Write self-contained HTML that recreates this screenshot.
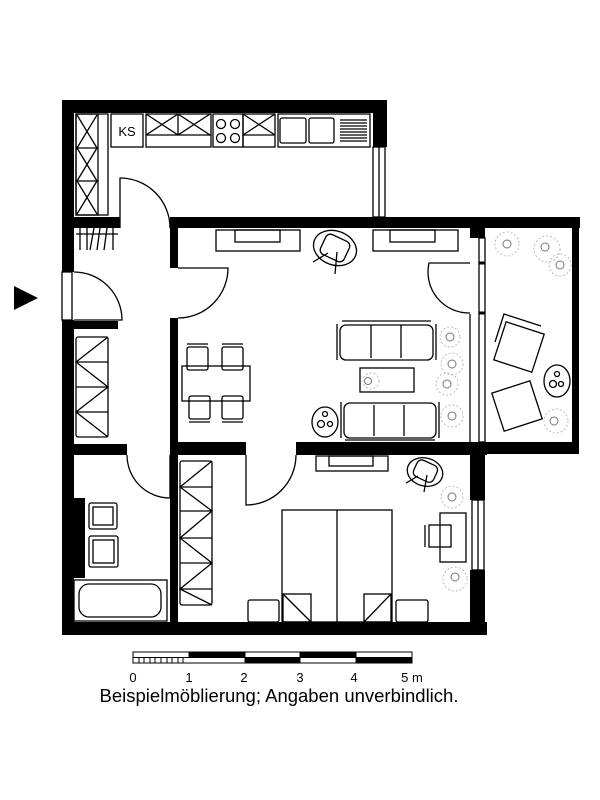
<!DOCTYPE html>
<html><head><meta charset="utf-8"><style>
html,body{margin:0;padding:0;background:#fff;}
svg{display:block;}
text{font-family:"Liberation Sans",Arial,sans-serif;}
</style></head><body>
<svg width="600" height="800" viewBox="0 0 600 800" xmlns="http://www.w3.org/2000/svg">
<rect width="600" height="800" fill="#fff"/>
<polygon points="14,286 38,298 14,310" fill="#000"/>
<g fill="#000">
<rect x="62" y="100" width="325" height="13"/>
<rect x="62" y="100" width="12" height="172"/>
<rect x="62" y="320" width="12" height="315"/>
<rect x="62" y="498" width="23" height="80"/>
<rect x="373" y="100" width="14" height="47"/>
<rect x="62" y="217" width="58" height="11"/>
<rect x="170" y="217" width="410" height="11"/>
<rect x="170" y="217" width="8" height="51"/>
<rect x="170" y="318" width="8" height="137"/>
<rect x="74" y="321" width="44" height="8"/>
<rect x="62" y="444" width="65" height="11"/>
<rect x="170" y="442" width="76" height="13"/>
<rect x="296" y="442" width="191" height="13"/>
<rect x="170" y="455" width="8" height="170"/>
<rect x="62" y="622" width="425" height="13"/>
<rect x="470" y="228" width="15" height="10"/>
<rect x="470" y="442" width="15" height="58"/>
<rect x="470" y="570" width="15" height="65"/>
<rect x="572" y="217" width="7" height="237"/>
<rect x="470" y="442" width="109" height="12"/>
</g>
<g fill="none" stroke="#000" stroke-width="1.3">
<rect x="373" y="147" width="12" height="70"/><line x1="379" y1="147" x2="379" y2="217"/>
<rect x="62" y="272" width="10" height="48" fill="#fff"/>
<path d="M74,272 A48,48 0 0 1 122,320 L74,320"/>
<path d="M120,228 L120,178 A50,50 0 0 1 170,228"/>
<path d="M178,268 L228,268 A50,50 0 0 1 178,318"/>
<path d="M127,455 A43,43 0 0 0 170,498 L170,455"/>
<path d="M246,455 L246,505 A50,50 0 0 0 296,455"/>
<rect x="479" y="238" width="6" height="204"/>
<line x1="470" y1="314" x2="470" y2="442"/>
<path d="M470,263 L429,263 A41,41 0 0 0 470,313"/>
<line x1="479" y1="263" x2="485" y2="263" stroke-width="3"/>
<line x1="479" y1="313" x2="485" y2="313" stroke-width="3"/>
<rect x="472" y="500" width="12" height="70"/><line x1="478" y1="500" x2="478" y2="570"/>
<rect x="76" y="114" width="32" height="101"/><rect x="76" y="114" width="22" height="101"/>
<path d="M77,115 L97,148 M97,115 L77,148 M77,148 L97,181 M97,148 L77,181 M77,181 L97,214 M97,181 L77,214"/>
<line x1="76" y1="148" x2="98" y2="148"/><line x1="76" y1="181" x2="98" y2="181"/>
<rect x="111" y="114" width="32" height="33"/>
<rect x="146" y="114" width="65" height="33"/>
<path d="M146,114 L178,135 L146,135 M178,114 L146,135 M178,114 L178,135 M178,114 L210,135 L178,135 M210,114 L178,135 M146,135 L210,135"/>
<rect x="213" y="114" width="30" height="33"/>
<circle cx="221" cy="124" r="4.5"/><circle cx="235" cy="124" r="4.5"/><circle cx="221" cy="138" r="4.5"/><circle cx="235" cy="138" r="4.5"/>
<rect x="243" y="114" width="32" height="33"/>
<path d="M243,114 L275,135 M275,114 L243,135 M243,135 L275,135"/>
<rect x="278" y="114" width="92" height="33"/>
<rect x="280" y="118" width="26" height="25" rx="2"/><rect x="309" y="118" width="25" height="25" rx="2"/>
<path d="M340,120 H367 M340,123 H367 M340,126 H367 M340,129 H367 M340,132 H367 M340,135 H367 M340,138 H367 M340,141 H367"/>
<path d="M76,234 H118 M80,228 V250 M87,228 V250 M94,228 L90,250 M100,228 L97,250 M107,228 L104,250 M113,228 V250"/>
<rect x="76" y="337" width="32" height="100" rx="2"/>
<path d="M76,362 H108 M76,387 H108 M76,412 H108 M108,337 L76,362 L108,387 L76,412 L108,437"/>
<rect x="216" y="230" width="84" height="21"/><rect x="235" y="230" width="45" height="12"/>
<rect x="373" y="230" width="85" height="21"/><rect x="390" y="230" width="45" height="12"/>
<ellipse cx="335" cy="248" rx="22" ry="17" transform="rotate(20 335 248)"/>
<rect x="322" y="237" width="26" height="22" rx="5" transform="rotate(25 335 248)"/>
<path d="M313,262 L328,253 M337,252 L335,274"/>
<rect x="182" y="366" width="68" height="35"/>
<rect x="187" y="347" width="21" height="23" rx="2"/><rect x="222" y="347" width="21" height="23" rx="2"/>
<rect x="189" y="396" width="21" height="23" rx="2"/><rect x="222" y="396" width="21" height="23" rx="2"/>
<path d="M187,344 H208 M222,344 H243 M189,422 H210 M222,422 H243"/>
<rect x="340" y="325" width="93" height="35" rx="6"/>
<path d="M337,324 V360 M436,324 V360 M342,321 H431 M371,325 V358 M401,325 V358"/>
<rect x="344" y="403" width="92" height="35" rx="6"/>
<path d="M341,402 V438 M439,402 V438 M374,405 V436 M404,405 V436 M345,440 H435"/>
<rect x="360" y="368" width="54" height="24"/>
<ellipse cx="325" cy="422" rx="13" ry="15"/>
<circle cx="325" cy="414" r="2.5"/><circle cx="321" cy="424" r="3.5"/><circle cx="330" cy="424" r="2.5"/>
<g stroke="#777" stroke-width="1">
<circle cx="450" cy="337" r="4"/><circle cx="452" cy="364" r="4"/><circle cx="447" cy="384" r="4"/><circle cx="452" cy="416" r="4"/><circle cx="368" cy="381" r="3.5"/>
</g>
<g stroke="#bbb" stroke-width="1" stroke-dasharray="2 2">
<circle cx="450" cy="337" r="10"/><circle cx="452" cy="364" r="11"/><circle cx="447" cy="384" r="11"/><circle cx="452" cy="416" r="11"/><circle cx="371" cy="381" r="8"/>
</g>
<rect x="499" y="327" width="40" height="40" transform="rotate(18 519 347)"/>
<path d="M495,342 L504,314 L541,326"/>
<rect x="497" y="386" width="40" height="40" transform="rotate(-18 517 406)"/>
<ellipse cx="557" cy="381" rx="13" ry="16"/>
<circle cx="557" cy="374" r="2.5"/><circle cx="553" cy="384" r="3.5"/><circle cx="561" cy="384" r="2.5"/>
<g stroke="#777" stroke-width="1"><circle cx="507" cy="244" r="4"/><circle cx="545" cy="247" r="4"/><circle cx="560" cy="265" r="4"/><circle cx="554" cy="421" r="4"/></g>
<g stroke="#bbb" stroke-width="1" stroke-dasharray="2 2"><circle cx="507" cy="244" r="12"/><circle cx="547" cy="249" r="13"/><circle cx="560" cy="265" r="11"/><circle cx="556" cy="421" r="12"/></g>
<rect x="89" y="503" width="28" height="26" rx="2"/><rect x="93" y="507" width="20" height="18"/>
<rect x="89" y="536" width="29" height="31" rx="2"/><rect x="93" y="540" width="21" height="23"/>
<rect x="74" y="580" width="93" height="41"/><rect x="79" y="584" width="82" height="33" rx="10"/>
<rect x="180" y="461" width="32" height="144" rx="2"/>
<path d="M180,487 H212 M180,511 H212 M180,538 H212 M180,563 H212 M180,589 H212 M212,461 L180,487 L212,511 L180,538 L212,563 L180,589 L212,605 M180,511 L212,511"/>
<rect x="316" y="456" width="72" height="15"/><rect x="329" y="456" width="44" height="10"/>
<ellipse cx="425" cy="472" rx="18" ry="14" transform="rotate(15 425 472)"/>
<rect x="414" y="462" width="22" height="18" rx="5" transform="rotate(25 425 472)"/>
<path d="M406,483 L418,476 M427,475 L424,492"/>
<rect x="282" y="510" width="110" height="112"/><line x1="337" y1="510" x2="337" y2="622"/>
<rect x="248" y="600" width="31" height="22" rx="2"/><rect x="283" y="594" width="28" height="28"/><path d="M283,594 L311,622"/>
<rect x="364" y="594" width="27" height="28"/><path d="M391,594 L364,622"/>
<rect x="396" y="600" width="32" height="22" rx="2"/>
<rect x="440" y="513" width="26" height="49"/>
<rect x="429" y="525" width="22" height="22"/><line x1="425" y1="525" x2="425" y2="547"/>
<g stroke="#777" stroke-width="1"><circle cx="452" cy="497" r="4"/><circle cx="455" cy="577" r="4"/></g>
<g stroke="#bbb" stroke-width="1" stroke-dasharray="2 2"><circle cx="452" cy="497" r="11"/><circle cx="455" cy="579" r="12"/></g>
</g>
<g stroke="#000" stroke-width="1">
<rect x="133" y="652" width="279" height="11" fill="#fff"/>
<rect x="189" y="652" width="56" height="5.5" fill="#000"/>
<rect x="245" y="657.5" width="55" height="5.5" fill="#000"/>
<rect x="300" y="652" width="56" height="5.5" fill="#000"/>
<rect x="356" y="657.5" width="56" height="5.5" fill="#000"/>
<line x1="133" y1="657.5" x2="189" y2="657.5"/>
<path d="M139,658 V663 M144,658 V663 M150,658 V663 M155,658 V663 M161,658 V663 M167,658 V663 M172,658 V663 M178,658 V663 M183,658 V663"/>
</g>
<g font-size="13" fill="#000" text-anchor="middle">
<text x="133" y="682">0</text><text x="189" y="682">1</text><text x="244" y="682">2</text><text x="300" y="682">3</text><text x="354" y="682">4</text><text x="412" y="682">5 m</text>
</g>
<text x="279" y="702" font-size="18.5" text-anchor="middle" fill="#000">Beispielmöblierung; Angaben unverbindlich.</text>
<text x="127" y="136" font-size="13" text-anchor="middle" fill="#000">KS</text>
</svg>
</body></html>
